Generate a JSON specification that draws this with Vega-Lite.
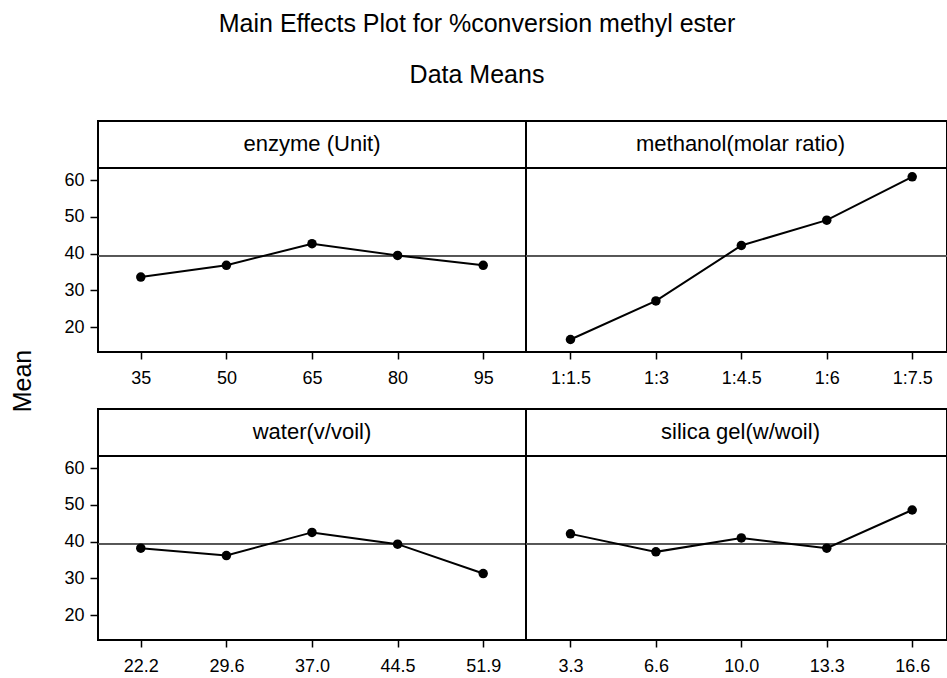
{
  "$schema": "https://vega.github.io/schema/vega-lite/v6.json",
  "background": "white",
  "padding": {"left": 5, "top": 12, "right": 0, "bottom": 0},
  "title": {
    "text": "Main Effects Plot for %conversion methyl ester",
    "subtitle": "Data Means",
    "fontSize": 25,
    "subtitleFontSize": 25,
    "font": "Liberation Sans",
    "subtitleFont": "Liberation Sans",
    "fontWeight": "normal",
    "color": "black",
    "subtitleColor": "black",
    "anchor": "middle",
    "subtitlePadding": 26,
    "offset": 32
  },
  "datasets": {
    "means": [
      {"factor": "enzyme", "level": "35", "mean": 33.6},
      {"factor": "enzyme", "level": "50", "mean": 36.8},
      {"factor": "enzyme", "level": "65", "mean": 42.7},
      {"factor": "enzyme", "level": "80", "mean": 39.5},
      {"factor": "enzyme", "level": "95", "mean": 36.8},
      {"factor": "methanol", "level": "1:1.5", "mean": 16.6},
      {"factor": "methanol", "level": "1:3", "mean": 27.1},
      {"factor": "methanol", "level": "1:4.5", "mean": 42.2},
      {"factor": "methanol", "level": "1:6", "mean": 49.1},
      {"factor": "methanol", "level": "1:7.5", "mean": 60.9},
      {"factor": "water", "level": "22.2", "mean": 38.2},
      {"factor": "water", "level": "29.6", "mean": 36.2},
      {"factor": "water", "level": "37.0", "mean": 42.5},
      {"factor": "water", "level": "44.5", "mean": 39.3},
      {"factor": "water", "level": "51.9", "mean": 31.3},
      {"factor": "silica", "level": "3.3", "mean": 42.1},
      {"factor": "silica", "level": "6.6", "mean": 37.2},
      {"factor": "silica", "level": "10.0", "mean": 41.0},
      {"factor": "silica", "level": "13.3", "mean": 38.2},
      {"factor": "silica", "level": "16.6", "mean": 48.6}
    ]
  },
  "spacing": 22,
  "hconcat": [
    {
      "width": 35,
      "height": 520,
      "view": {"stroke": null},
      "data": {"values": [{"label": "Mean"}]},
      "mark": {"type": "text", "angle": 270, "fontSize": 25, "font": "Liberation Sans", "color": "black", "baseline": "middle", "align": "center"},
      "encoding": {"text": {"field": "label"}}
    },
    {
      "spacing": 20,
      "vconcat": [
        {
          "spacing": 0,
          "bounds": "flush",
          "hconcat": [
            {
              "width": 428,
              "height": 231,
              "data": {"name": "means"},
              "transform": [{"filter": "datum.factor === 'enzyme'"}],
              "layer": [
                {"mark": {"type": "rule", "color": "black", "strokeWidth": 2}, "encoding": {"y": {"datum": 63.3, "type": "quantitative", "axis": {"title": null, "values": [20, 30, 40, 50, 60]}}}},
                {"mark": {"type": "rule", "color": "#555555", "strokeWidth": 1.5}, "encoding": {"y": {"datum": 39.4, "type": "quantitative", "axis": {"title": null, "values": [20, 30, 40, 50, 60]}}}},
                {"data": {"values": [{"t": "enzyme (Unit)"}]}, "mark": {"type": "text", "fontSize": 22, "font": "Liberation Sans", "color": "black", "baseline": "middle"}, "encoding": {"y": {"datum": 69.8, "type": "quantitative", "axis": {"title": null, "values": [20, 30, 40, 50, 60]}}, "text": {"field": "t"}}},
                {"mark": {"type": "line", "color": "black", "strokeWidth": 2}, "encoding": {
                  "x": {"field": "level", "type": "ordinal", "sort": null, "scale": {"type": "point", "padding": 0.5, "align": 0.5}, "axis": {"title": null}},
                  "y": {"field": "mean", "type": "quantitative", "scale": {"domain": [13.2, 76.1], "nice": false, "zero": false}, "axis": {"title": null, "values": [20, 30, 40, 50, 60]}}}},
                {"mark": {"type": "point", "filled": true, "color": "black", "opacity": 1, "size": 90}, "encoding": {
                  "x": {"field": "level", "type": "ordinal", "sort": null, "scale": {"type": "point", "padding": 0.5, "align": 0.5}, "axis": {"title": null}},
                  "y": {"field": "mean", "type": "quantitative", "scale": {"domain": [13.2, 76.1], "nice": false, "zero": false}, "axis": {"title": null, "values": [20, 30, 40, 50, 60]}}}}
              ]
            },
            {
              "width": 421,
              "height": 231,
              "data": {"name": "means"},
              "transform": [{"filter": "datum.factor === 'methanol'"}],
              "layer": [
                {"mark": {"type": "rule", "color": "black", "strokeWidth": 2}, "encoding": {"y": {"datum": 63.3, "type": "quantitative", "axis": null}}},
                {"mark": {"type": "rule", "color": "#555555", "strokeWidth": 1.5}, "encoding": {"y": {"datum": 39.4, "type": "quantitative", "axis": null}}},
                {"data": {"values": [{"t": "methanol(molar ratio)"}]}, "mark": {"type": "text", "fontSize": 22, "font": "Liberation Sans", "color": "black", "baseline": "middle", "dx": 4}, "encoding": {"y": {"datum": 69.8, "type": "quantitative", "axis": null}, "text": {"field": "t"}}},
                {"mark": {"type": "line", "color": "black", "strokeWidth": 2}, "encoding": {
                  "x": {"field": "level", "type": "ordinal", "sort": null, "scale": {"type": "point", "padding": 0.464, "align": 0.561}, "axis": {"title": null}},
                  "y": {"field": "mean", "type": "quantitative", "scale": {"domain": [13.2, 76.1], "nice": false, "zero": false}, "axis": null}}},
                {"mark": {"type": "point", "filled": true, "color": "black", "opacity": 1, "size": 90}, "encoding": {
                  "x": {"field": "level", "type": "ordinal", "sort": null, "scale": {"type": "point", "padding": 0.464, "align": 0.561}, "axis": {"title": null}},
                  "y": {"field": "mean", "type": "quantitative", "scale": {"domain": [13.2, 76.1], "nice": false, "zero": false}, "axis": null}}}
              ]
            }
          ]
        },
        {
          "spacing": 0,
          "bounds": "flush",
          "hconcat": [
            {
              "width": 428,
              "height": 231,
              "data": {"name": "means"},
              "transform": [{"filter": "datum.factor === 'water'"}],
              "layer": [
                {"mark": {"type": "rule", "color": "black", "strokeWidth": 2}, "encoding": {"y": {"datum": 63.3, "type": "quantitative", "axis": {"title": null, "values": [20, 30, 40, 50, 60]}}}},
                {"mark": {"type": "rule", "color": "#555555", "strokeWidth": 1.5}, "encoding": {"y": {"datum": 39.4, "type": "quantitative", "axis": {"title": null, "values": [20, 30, 40, 50, 60]}}}},
                {"data": {"values": [{"t": "water(v/voil)"}]}, "mark": {"type": "text", "fontSize": 22, "font": "Liberation Sans", "color": "black", "baseline": "middle"}, "encoding": {"y": {"datum": 69.8, "type": "quantitative", "axis": {"title": null, "values": [20, 30, 40, 50, 60]}}, "text": {"field": "t"}}},
                {"mark": {"type": "line", "color": "black", "strokeWidth": 2}, "encoding": {
                  "x": {"field": "level", "type": "ordinal", "sort": null, "scale": {"type": "point", "padding": 0.5, "align": 0.5}, "axis": {"title": null}},
                  "y": {"field": "mean", "type": "quantitative", "scale": {"domain": [13.2, 76.1], "nice": false, "zero": false}, "axis": {"title": null, "values": [20, 30, 40, 50, 60]}}}},
                {"mark": {"type": "point", "filled": true, "color": "black", "opacity": 1, "size": 90}, "encoding": {
                  "x": {"field": "level", "type": "ordinal", "sort": null, "scale": {"type": "point", "padding": 0.5, "align": 0.5}, "axis": {"title": null}},
                  "y": {"field": "mean", "type": "quantitative", "scale": {"domain": [13.2, 76.1], "nice": false, "zero": false}, "axis": {"title": null, "values": [20, 30, 40, 50, 60]}}}}
              ]
            },
            {
              "width": 421,
              "height": 231,
              "data": {"name": "means"},
              "transform": [{"filter": "datum.factor === 'silica'"}],
              "layer": [
                {"mark": {"type": "rule", "color": "black", "strokeWidth": 2}, "encoding": {"y": {"datum": 63.3, "type": "quantitative", "axis": null}}},
                {"mark": {"type": "rule", "color": "#555555", "strokeWidth": 1.5}, "encoding": {"y": {"datum": 39.4, "type": "quantitative", "axis": null}}},
                {"data": {"values": [{"t": "silica gel(w/woil)"}]}, "mark": {"type": "text", "fontSize": 22, "font": "Liberation Sans", "color": "black", "baseline": "middle", "dx": 4}, "encoding": {"y": {"datum": 69.8, "type": "quantitative", "axis": null}, "text": {"field": "t"}}},
                {"mark": {"type": "line", "color": "black", "strokeWidth": 2}, "encoding": {
                  "x": {"field": "level", "type": "ordinal", "sort": null, "scale": {"type": "point", "padding": 0.464, "align": 0.561}, "axis": {"title": null}},
                  "y": {"field": "mean", "type": "quantitative", "scale": {"domain": [13.2, 76.1], "nice": false, "zero": false}, "axis": null}}},
                {"mark": {"type": "point", "filled": true, "color": "black", "opacity": 1, "size": 90}, "encoding": {
                  "x": {"field": "level", "type": "ordinal", "sort": null, "scale": {"type": "point", "padding": 0.464, "align": 0.561}, "axis": {"title": null}},
                  "y": {"field": "mean", "type": "quantitative", "scale": {"domain": [13.2, 76.1], "nice": false, "zero": false}, "axis": null}}}
              ]
            }
          ]
        }
      ]
    }
  ],
  "config": {
    "font": "Liberation Sans",
    "view": {"stroke": "black", "strokeWidth": 2},
    "axis": {
      "grid": false,
      "domain": false,
      "labelAngle": 0,
      "labelFont": "Liberation Sans",
      "labelFontSize": 18,
      "labelColor": "black",
      "tickColor": "black",
      "tickWidth": 1.5,
      "labelOverlap": false,
      "labelFlush": false
    },
    "axisX": {"tickSize": 7, "labelPadding": 10},
    "axisY": {"tickSize": 8, "labelPadding": 6}
  }
}
